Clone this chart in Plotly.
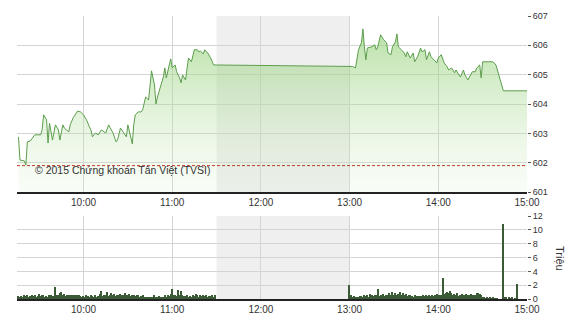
import plotly.graph_objects as go
import pandas as pd

DAY = "2015-06-01 "

# Price (VN-Index intraday)
price_times = [
    "09:16", "09:17", "09:20", "09:21", "09:22", "09:24", "09:27", "09:31", "09:32", "09:33",
    "09:35", "09:36", "09:37", "09:39", "09:41", "09:43", "09:44", "09:46", "09:47", "09:50",
    "09:51", "09:53", "09:56", "09:58", "10:00", "10:02", "10:04", "10:05", "10:06", "10:08",
    "10:10", "10:12", "10:15", "10:17", "10:18", "10:20", "10:22", "10:23", "10:25", "10:27",
    "10:29", "10:30", "10:31", "10:33", "10:34", "10:35", "10:37", "10:39", "10:40", "10:42",
    "10:44", "10:45", "10:46", "10:48", "10:49", "10:50", "10:52", "10:54", "10:55", "10:56",
    "10:58", "10:59", "11:00", "11:02", "11:03", "11:05", "11:06", "11:07", "11:09", "11:10",
    "11:11", "11:13", "11:14", "11:15", "11:17", "11:18", "11:19", "11:21", "11:22", "11:24",
    "11:26", "11:28", "11:30",
    "13:00", "13:02", "13:04", "13:06", "13:08", "13:09", "13:10", "13:11", "13:12", "13:15",
    "13:17", "13:18", "13:19", "13:21", "13:23", "13:25", "13:26", "13:28", "13:29", "13:31",
    "13:32", "13:33", "13:35", "13:37", "13:38", "13:39", "13:41", "13:43", "13:44", "13:46",
    "13:48", "13:49", "13:51", "13:52", "13:54", "13:55", "13:57", "13:59", "14:00", "14:02",
    "14:04", "14:06", "14:07", "14:09", "14:11", "14:12", "14:14", "14:15", "14:17", "14:18",
    "14:20", "14:21", "14:23", "14:25", "14:26", "14:28", "14:29", "14:30", "14:37", "14:39",
    "14:44", "15:00",
]
price_values = [
    602.88, 602.09, 602.06, 601.92, 602.71, 602.74, 602.95, 602.95, 603.12, 603.63,
    603.46, 602.67, 603.35, 602.77, 603.29, 603.12, 602.77, 603.29, 603.18, 603.05,
    603.29, 603.53, 603.76, 603.73, 603.63, 603.46, 603.22, 603.12, 602.88, 603.01,
    602.95, 603.12, 603.01, 603.29, 603.19, 603.01, 602.71, 602.77, 603.18, 603.01,
    602.88, 603.29, 603.05, 602.64, 603.29, 603.63, 603.73, 603.73, 603.80, 604.24,
    604.14, 604.55, 605.13, 604.65, 604.00, 604.24, 604.55, 604.92, 605.23, 604.89,
    605.33, 605.54, 605.23, 605.33, 605.10, 604.89, 604.72, 604.99, 604.82, 605.27,
    605.57, 605.44, 605.64, 605.85, 605.85, 605.78, 605.81, 605.71, 605.85, 605.74,
    605.57, 605.33, 605.33,
    605.27, 605.28, 605.23, 605.85, 606.09, 606.56, 605.95, 605.51, 605.91, 605.95,
    606.02, 605.85, 605.95, 606.36, 606.19, 606.09, 605.74, 605.68, 605.95, 606.12,
    606.39, 605.95, 605.85, 605.74, 605.61, 605.78, 605.57, 605.74, 605.44, 605.61,
    605.91, 605.78, 605.85, 605.51, 605.78, 605.61, 605.51, 605.40, 605.57, 605.68,
    605.40, 605.27, 605.16, 605.23, 605.06, 605.16, 604.99, 604.92, 605.16, 604.99,
    604.82, 604.92, 605.10, 605.10, 605.23, 605.33, 604.89, 605.44, 605.44, 605.33,
    604.45, 604.45,
]
ref_price = 601.9

# Volume (millions) per minute
vol_am_start = "09:15"
vol_am = [
    0.3, 0.4, 0.35, 0.45, 0.3, 0.5, 0.4, 0.55, 0.35, 0.45,
    0.6, 0.4, 0.5, 0.35, 0.45, 0.7, 0.4, 0.5, 0.6, 0.3,
    0.4, 0.3, 0.5, 0.6, 0.45, 0.4, 1.7, 0.5, 0.6, 0.8,
    1.05, 0.5, 0.7, 0.45, 0.55, 0.5, 0.5, 0.5, 0.55, 0.5,
    0.5, 0.5, 0.5, 0.45, 0.3, 0.4, 0.35, 0.5, 0.4, 0.3,
    0.6, 0.45, 0.35, 0.5, 0.3, 0.45, 0.7, 1.2, 0.4, 0.5,
    0.5, 1.0, 0.4, 0.6, 0.8, 0.5, 0.7, 0.4, 0.6, 0.5,
    0.7, 0.5, 0.6, 0.8, 0.55, 0.5, 0.7, 0.45, 0.6, 0.5,
    0.4, 0.6, 0.55, 0.3, 0.45, 0.5, 0.35, 0.3, 0.3, 0.25,
    0.3, 0.25, 0.3, 0.5, 0.35, 0.3, 0.45, 0.3, 0.25, 0.3,
    0.5, 0.35, 0.6, 0.4, 0.7, 1.4, 0.5, 0.6, 0.4, 1.3,
    0.6, 1.1, 0.5, 0.45, 0.4, 0.6, 0.35, 0.4, 0.3, 0.5,
    0.4, 0.7, 0.5, 0.35, 0.6, 0.45, 0.5, 0.4, 0.55, 0.35,
    0.45, 0.4, 0.5, 0.35, 0.6,
]
vol_pm_start = "13:00"
vol_pm = [
    2.0, 0.5, 0.3, 0.4, 0.25, 0.35, 0.3, 0.4, 0.45, 0.35,
    0.5, 0.4, 0.6, 0.35, 0.7, 0.5, 0.4, 0.6, 0.5, 1.45,
    0.4, 0.6, 0.5, 0.7, 0.45, 0.6, 0.5, 0.8, 0.6, 1.05,
    0.6, 0.9, 0.5, 0.7, 1.0, 0.6, 0.8, 0.5, 0.7, 0.4,
    0.5, 0.6, 0.4, 0.35, 0.5, 0.4, 0.45, 0.4, 0.45, 0.4,
    0.5, 0.45, 0.5, 0.4, 0.6, 0.45, 0.55, 0.4, 0.6, 0.7,
    0.5, 0.6, 0.5, 3.0, 0.7, 0.8, 1.0, 0.9, 1.2, 0.8,
    0.6, 0.7, 0.5, 0.8, 0.4, 0.6, 0.7, 0.5, 0.6, 0.7,
    0.6, 0.5, 0.7, 0.6, 0.5, 0.6, 0.8, 0.9, 0.7, 0.5,
    0.2, 0.15, 0.1, 0.2, 0.1, 0.15, 0.1, 0.2, 0.1, 0.1,
    0.05, 0.0, 0.0, 0.0, 10.9,
    0.2, 0.15, 0.0, 0.2, 0.1, 0.15, 0.0, 0.1, 2.15,
]

x_ticks = ["10:00", "11:00", "12:00", "13:00", "14:00", "15:00"]
break_start, break_end = "11:30", "13:00"
x_start, x_end = "09:15", "15:00"

px_t = pd.to_datetime([DAY + t for t in price_times])
vt_am = pd.date_range(DAY + vol_am_start, periods=len(vol_am), freq="min")
vt_pm = pd.date_range(DAY + vol_pm_start, periods=len(vol_pm), freq="min")
vol_t = list(vt_am) + list(vt_pm)
vol_v = vol_am + vol_pm

FONT = "Arial, Liberation Sans, sans-serif"
fig = go.Figure()

fig.add_trace(go.Scatter(
    x=px_t, y=price_values, mode="lines",
    line=dict(color="#5c9e4c", width=1),
    fill="tozeroy",
    fillgradient=dict(type="vertical", start=601, stop=606.6,
                      colorscale=[[0, "rgba(215,240,205,0.15)"], [1, "rgba(140,205,110,0.62)"]]),
    xaxis="x", yaxis="y", showlegend=False, hoverinfo="skip",
))
fig.add_trace(go.Scatter(
    x=[DAY + x_start, DAY + x_end], y=[ref_price, ref_price], mode="lines",
    line=dict(color="#c0392b", width=1, dash="3px,2px"),
    xaxis="x", yaxis="y", showlegend=False, hoverinfo="skip",
))
fig.add_trace(go.Bar(
    x=vol_t, y=vol_v, marker=dict(color="#3b5a36", line=dict(width=0)),
    width=60000 * 0.85, xaxis="x2", yaxis="y2", showlegend=False, hoverinfo="skip",
))

for xr, yr in (("x", "y"), ("x2", "y2")):
    fig.add_shape(type="rect", xref=xr, yref=yr + " domain",
                  x0=DAY + break_start, x1=DAY + break_end, y0=0, y1=1,
                  fillcolor="#efefef", line=dict(width=0), layer="below")

tickvals = [DAY + t for t in x_ticks]
xcommon = dict(type="date", range=[DAY + x_start, DAY + x_end], tickvals=tickvals,
               ticktext=x_ticks, showgrid=True, gridcolor="#d4d4d4", gridwidth=1,
               showline=True, linecolor="#222", linewidth=2, ticks="", automargin=False,
               tickfont=dict(family=FONT, size=10, color="#333"), zeroline=False)
ycommon = dict(side="right", showgrid=True, gridcolor="#d4d4d4", ticks="outside", ticklen=3,
               tickcolor="#555", zeroline=False, automargin=False,
               tickfont=dict(family=FONT, size=9, color="#333"))
fig.update_layout(
    width=570, height=320,
    margin=dict(l=17, r=43, t=16, b=21, autoexpand=False),
    paper_bgcolor="white", plot_bgcolor="white",
    bargap=0,
    xaxis=dict(**xcommon, anchor="y"),
    xaxis2=dict(**xcommon, anchor="y2"),
    yaxis=dict(**ycommon, domain=[0.378, 1], range=[601, 607], dtick=1, anchor="x"),
    yaxis2=dict(**ycommon, domain=[0, 0.293], range=[0, 12], dtick=2, anchor="x2"),
    annotations=[
        dict(text="© 2015 Chứng khoán Tân Việt (TVSI)", xref="paper", yref="paper",
             x=0.031, y=(299 - 170) / 283, xanchor="left", yanchor="middle",
             showarrow=False, font=dict(family=FONT, size=10.5, color="#333")),
        dict(text="Triệu", xref="paper", yref="paper", x=(560 - 17) / 510, y=(299 - 258) / 283,
             xanchor="center", yanchor="middle", textangle=90, showarrow=False,
             font=dict(family=FONT, size=11, color="#333")),
    ],
)

fig.write_html("out.html")
